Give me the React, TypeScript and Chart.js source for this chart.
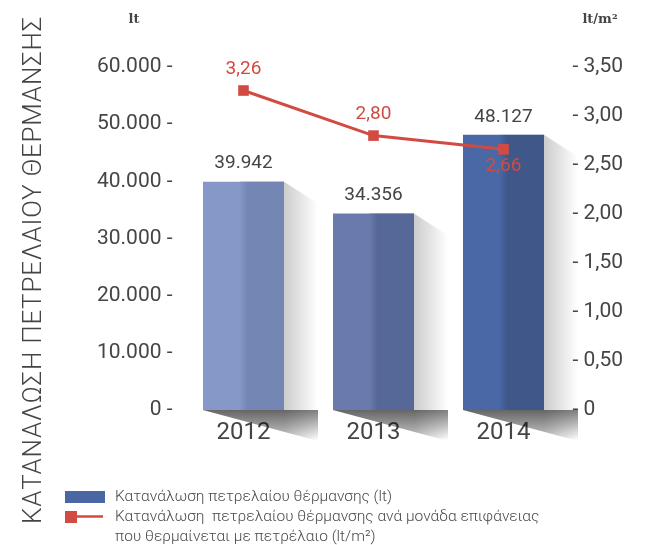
import { useEffect, useRef } from 'react';
import { Chart, registerables } from 'chart.js';

Chart.register(...registerables);

const years = ['2012', '2013', '2014'];
const consumption = [39942, 34356, 48127];
const consumptionLabels = ['39.942', '34.356', '48.127'];
const perArea = [3.26, 2.8, 2.66];
const perAreaLabels = ['3,26', '2,80', '2,66'];
const leftMax = 60000;
const leftStep = 10000;
const rightMax = 3.5;
const rightStep = 0.5;

const titleText = 'ΚΑΤΑΝΑΛΩΣΗ ΠΕΤΡΕΛΑΙΟΥ ΘΕΡΜΑΝΣΗΣ';
const leftUnit = 'lt';
const rightUnit = 'lt/m²';
const barLegend = ['Κατανάλωση πετρελαίου θέρμανσης (lt)'];
const lineLegend = [
  'Κατανάλωση  πετρελαίου θέρμανσης ανά μονάδα επιφάνειας',
  'που θερμαίνεται με πετρέλαιο (lt/m²)',
];

const barLight = ['#8598c8', '#6a7aad', '#4a68a5'];
const barDark = ['#7487b4', '#566897', '#3f5889'];
const legendBlue = '#4a67a4';
const red = '#d24b42';
const textGrey = '#454545';
const FONT = 'Roboto, "Noto Sans", sans-serif';

const BAR_INDEX = 1;

const fmtThousands = (v: number) =>
  String(v).replace(/\B(?=(\d{3})+(?!\d))/g, '.');

const decorPlugin = {
  id: 'decor',
  beforeDatasetsDraw(chart: any) {
    const ctx = chart.ctx;
    const meta = chart.getDatasetMeta(BAR_INDEX);
    meta.data.forEach((bar: any) => {
      const { x, y, base, width } = bar.getProps(['x', 'y', 'base', 'width'], true);
      const xL = x - width / 2;
      const xR = x + width / 2;
      const d = 34;
      ctx.save();
      ctx.beginPath();
      ctx.moveTo(xR, y);
      ctx.lineTo(xR + d, y + 22);
      ctx.lineTo(xR + d, base + 31);
      ctx.lineTo(xL, base);
      ctx.closePath();
      let g = ctx.createLinearGradient(xR, 0, xR + d, 0);
      g.addColorStop(0, 'rgba(0,0,0,0.2)');
      g.addColorStop(1, 'rgba(0,0,0,0)');
      ctx.fillStyle = g;
      ctx.fill();
      ctx.beginPath();
      ctx.moveTo(xL, base);
      ctx.lineTo(xR + d, base);
      ctx.lineTo(xR + d, base + 31);
      ctx.closePath();
      g = ctx.createLinearGradient(0, base, 0, base + 30);
      g.addColorStop(0, 'rgba(0,0,0,0.5)');
      g.addColorStop(1, 'rgba(0,0,0,0)');
      ctx.fillStyle = g;
      ctx.fill();
      ctx.restore();
    });
  },
  afterDatasetDraw(chart: any, args: any) {
    if (args.index !== BAR_INDEX) return;
    const ctx = chart.ctx;
    args.meta.data.forEach((bar: any, i: number) => {
      const { x, y, base, width } = bar.getProps(['x', 'y', 'base', 'width'], true);
      const g = ctx.createLinearGradient(x - 4, 0, x + 4, 0);
      g.addColorStop(0, barLight[i]);
      g.addColorStop(1, barDark[i]);
      ctx.save();
      ctx.fillStyle = g;
      ctx.fillRect(x - 4, y, width / 2 + 4, base - y);
      ctx.restore();
    });
  },
  afterDatasetsDraw(chart: any) {
    const ctx = chart.ctx;
    ctx.save();
    ctx.textAlign = 'center';
    ctx.textBaseline = 'middle';
    ctx.font = `19px ${FONT}`;
    ctx.fillStyle = textGrey;
    chart.getDatasetMeta(BAR_INDEX).data.forEach((bar: any, i: number) => {
      ctx.fillText(consumptionLabels[i], bar.x, bar.y - 18);
    });
    ctx.fillStyle = red;
    chart.getDatasetMeta(0).data.forEach((pt: any, i: number) => {
      const below = i === perArea.length - 1;
      ctx.fillText(perAreaLabels[i], pt.x, below ? pt.y + 17 : pt.y - 21);
    });
    ctx.restore();
  },
  afterDraw(chart: any) {
    const ctx = chart.ctx;
    ctx.save();
    // vertical title
    ctx.translate(34, 270);
    ctx.rotate(-Math.PI / 2);
    ctx.font = `300 26px ${FONT}`;
    (ctx as any).letterSpacing = '0.8px';
    ctx.fillStyle = textGrey;
    ctx.textAlign = 'center';
    ctx.textBaseline = 'middle';
    ctx.fillText(titleText, 0, 0);
    ctx.restore();

    // unit labels
    ctx.save();
    ctx.font = 'bold 13px "DejaVu Serif", serif';
    ctx.fillStyle = textGrey;
    ctx.textAlign = 'center';
    ctx.textBaseline = 'middle';
    ctx.fillText(leftUnit, 134, 20);
    ctx.fillText(rightUnit, 600, 20);
    ctx.restore();

    // legend
    ctx.save();
    ctx.fillStyle = legendBlue;
    ctx.fillRect(65, 491, 40, 12);
    ctx.strokeStyle = red;
    ctx.lineWidth = 2.5;
    ctx.beginPath();
    ctx.moveTo(70, 516.5);
    ctx.lineTo(103, 516.5);
    ctx.stroke();
    ctx.fillStyle = red;
    ctx.fillRect(65, 511, 12, 12);
    ctx.font = `300 15.5px ${FONT}`;
    ctx.fillStyle = '#4a4a4a';
    ctx.textAlign = 'left';
    ctx.textBaseline = 'middle';
    ctx.fillText(barLegend[0], 115, 497);
    ctx.fillText(lineLegend[0], 115, 517);
    ctx.fillText(lineLegend[1], 115, 537);
    ctx.restore();
  },
};

export default function App() {
  const ref = useRef<HTMLCanvasElement>(null);
  useEffect(() => {
    document.body.style.margin = '0';
    const chart = new Chart(ref.current!, {
      type: 'bar',
      data: {
        labels: years,
        datasets: [
          {
            type: 'line',
            label: lineLegend.join(' '),
            data: perArea,
            yAxisID: 'y1',
            borderColor: red,
            backgroundColor: red,
            borderWidth: 3,
            pointStyle: 'rect',
            pointRadius: 7.5,
            pointBorderWidth: 0,
            pointBackgroundColor: red,
            order: 0,
          } as any,
          {
            type: 'bar',
            label: barLegend[0],
            data: consumption,
            yAxisID: 'y',
            backgroundColor: barLight,
            borderWidth: 0,
            barPercentage: 0.623,
            categoryPercentage: 1,
            order: 1,
          },
        ],
      },
      options: {
        responsive: false,
        animation: false,
        layout: { padding: { top: 67, left: 0, right: 0, bottom: 0 } },
        plugins: { legend: { display: false }, tooltip: { enabled: false } },
        scales: {
          x: {
            z: 1,
            grid: { display: false, drawTicks: false },
            border: { display: false },
            ticks: {
              padding: 9,
              color: textGrey,
              font: { family: FONT, size: 24 },
            },
            afterFit: (s: any) => {
              s.height = 135;
            },
          },
          y: {
            position: 'left',
            min: 0,
            max: leftMax,
            grid: { display: false, drawTicks: false },
            border: { display: false },
            ticks: {
              stepSize: leftStep,
              padding: 6,
              color: textGrey,
              font: { family: FONT, size: 21 },
              callback: (v: any) => `${fmtThousands(Number(v))} -`,
            },
            afterFit: (s: any) => {
              s.width = 178.5;
            },
          },
          y1: {
            position: 'right',
            min: 0,
            max: rightMax,
            grid: { display: false, drawTicks: false },
            border: { display: false },
            ticks: {
              stepSize: rightStep,
              padding: 4,
              color: textGrey,
              font: { family: FONT, size: 21 },
              callback: (v: any) =>
                Number(v) === 0 ? '- 0' : `- ${Number(v).toFixed(2).replace('.', ',')}`,
            },
            afterFit: (s: any) => {
              s.width = 84.5;
            },
          },
        },
      },
      plugins: [decorPlugin],
    });
    return () => chart.destroy();
  }, []);
  return (
    <canvas
      ref={ref}
      width={653}
      height={545}
      style={{ display: 'block', width: 653, height: 545 }}
    />
  );
}
